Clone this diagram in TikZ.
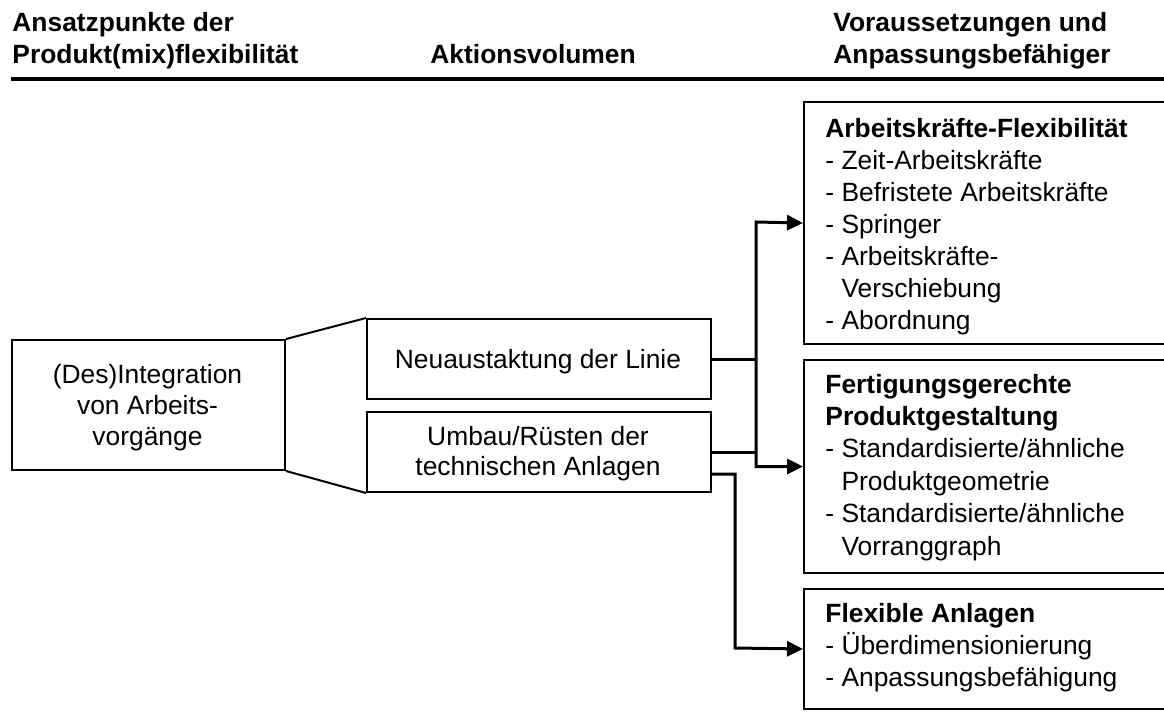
\documentclass[tikz,border=0pt]{standalone}
\usepackage{fontspec}
\setmainfont{Liberation Sans}
\usetikzlibrary{arrows.meta}
\begin{document}
\begin{tikzpicture}[x=0.5pt,y=-0.5pt,
  box/.style={draw, line width=1pt, inner sep=0pt, anchor=north west},
  txt/.style={inner sep=0pt, font=\fontsize{13.2}{#1}\selectfont},
  txt/.default=16.2,
  conn/.style={line width=1.5pt},
  tip/.style={-{Triangle[length=8pt,width=7.5pt]}},
  tips/.style={{Triangle[length=8pt,width=7.5pt]}-{Triangle[length=8pt,width=7.5pt]}},
]
\path[use as bounding box, clip] (0,0) rectangle (1164,718);

% column headings
\node[txt=16, anchor=base west] (h1) at (12,31)
  {\bfseries\begin{tabular}[t]{@{}l@{}}Ansatzpunkte der\\Produkt(mix)flexibilität\end{tabular}};
\node[txt, anchor=base west] (h2) at (430,63) {\bfseries Aktionsvolumen};
\node[txt=16, anchor=base west] (h3) at (833,31)
  {\bfseries\begin{tabular}[t]{@{}l@{}}Voraussetzungen und\\Anpassungsbefähiger\end{tabular}};
\coordinate (ruleL) at (11,79);
\coordinate (ruleR) at (1164,79);
\draw[line width=1.6pt] (ruleL) -- (ruleR);

% starting point
\node[box, minimum width=136.5pt, minimum height=65pt] (L) at (11,339) {};
\node[txt=15.5, anchor=base] (Ltxt) at (147.5,383)
  {\begin{tabular}[t]{@{}c@{}}(Des)Integration\\von Arbeits-\\vorgänge\end{tabular}};

% actions
\node[box, minimum width=172pt, minimum height=40pt] (M1) at (366,318) {};
\node[txt, anchor=base] (M1txt) at (538,368) {Neuaustaktung der Linie};
\node[box, minimum width=172pt, minimum height=40pt] (M2) at (366,411) {};
\node[txt=15, anchor=base] (M2txt) at (538,445)
  {\begin{tabular}[t]{@{}c@{}}Umbau/Rüsten der\\technischen Anlagen\end{tabular}};

\draw[line width=1pt] (L.north east) -- (M1.north west);
\draw[line width=1pt] (L.south east) -- (M2.south west);

% prerequisites
\node[box, minimum width=188.5pt, minimum height=121pt] (R1) at (803,101) {};
\node[txt=16, anchor=base west] (R1txt) at (825,137)
  {\begin{tabular}[t]{@{}l@{}}\textbf{Arbeitskräfte-Flexibilität}\\
   - Zeit-Arbeitskräfte\\
   - Befristete Arbeitskräfte\\
   - Springer\\
   - Arbeitskräfte-\\
   \hphantom{- }Verschiebung\\
   - Abordnung\end{tabular}};

\node[box, minimum width=188.5pt, minimum height=106.5pt] (R2) at (803,359) {};
\node[txt, anchor=base west] (R2txt) at (825,393)
  {\begin{tabular}[t]{@{}l@{}}\textbf{Fertigungsgerechte}\\
   \textbf{Produktgestaltung}\\
   - Standardisierte/ähnliche\\
   \hphantom{- }Produktgeometrie\\
   - Standardisierte/ähnliche\\
   \hphantom{- }Vorranggraph\end{tabular}};

\node[box, minimum width=188.5pt, minimum height=60pt] (R3) at (803,588) {};
\node[txt, anchor=base west] (R3txt) at (825,622)
  {\begin{tabular}[t]{@{}l@{}}\textbf{Flexible Anlagen}\\
   - Überdimensionierung\\
   - Anpassungsbefähigung\end{tabular}};

% connectors
\coordinate (jt) at (756,222);
\coordinate (kk) at (735,648);
\draw[conn, tips] (R1.west) -- (jt) -- (jt |- R2.west) -- (R2.west);
\draw[conn] (M1.east) -- (M1.east -| jt);
\draw[conn] (M2.east) -- (M2.east -| jt);
\draw[conn, tip] ([yshift=-11pt]M2.east) -| (kk) -- (R3.west);
\end{tikzpicture}
\end{document}
